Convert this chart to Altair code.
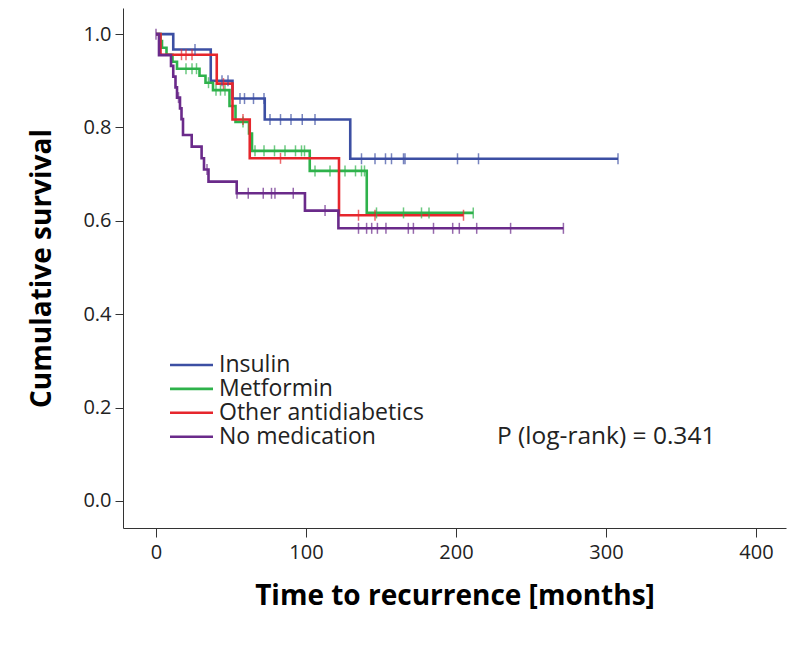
import altair as alt
import pandas as pd

# ---------------- data ----------------
groups = ["Insulin", "Metformin", "Other antidiabetics", "No medication"]
colors = ["#3c4fa3", "#2eb24b", "#e6262c", "#6a2a8a"]

insulin_t = [0, 11.5, 36.5, 51, 72.5, 129.5]
insulin_s = [1.0, 0.967, 0.900, 0.862, 0.817, 0.733]
insulin_end = 308
insulin_cens = [26, 44, 48, 56, 59, 65, 72, 76, 83, 90, 97.5, 106,
                137, 146, 153, 157, 165, 166, 201, 215, 308]

metformin_t = [0, 3, 4, 7, 11, 14, 29, 33, 38, 49, 53, 62, 64, 102.5, 140.5]
metformin_s = [1.0, 0.985, 0.971, 0.956, 0.941, 0.926, 0.911, 0.896, 0.880,
               0.846, 0.812, 0.787, 0.750, 0.707, 0.617]
metformin_end = 211.5
metformin_cens = [20, 24, 27, 35, 40, 43, 46, 58, 66, 72, 79, 86, 93, 97, 99,
                  106, 116, 126, 133, 137, 139, 147, 165, 177, 182, 211.5]

other_t = [0, 3, 40.5, 51, 62.5, 122]
other_s = [1.0, 0.956, 0.894, 0.817, 0.734, 0.612]
other_end = 205
other_cens = [17, 20, 24, 45, 58, 83, 135, 146, 205]

nomed_t = [0, 2, 10, 11.5, 13, 14, 16, 17, 18, 23.8, 30.4, 32, 35, 53.8, 99.3, 121.6]
nomed_s = [1.0, 0.955, 0.932, 0.909, 0.886, 0.864, 0.841, 0.818, 0.784,
           0.759, 0.734, 0.710, 0.684, 0.659, 0.622, 0.584]
nomed_end = 271.6
nomed_cens = [0, 15, 34, 54, 61.5, 71.5, 77, 79.3, 91.5, 112.7, 135, 140.4,
              143.8, 147.6, 153.3, 168.2, 171.6, 185, 197.8, 202.2, 213.8,
              236.4, 271.6]

x_ticks = [0, 100, 200, 300, 400]
y_ticks = [0.0, 0.2, 0.4, 0.6, 0.8, 1.0]
x_title = "Time to recurrence [months]"
y_title = "Cumulative survival"
p_text = "P (log-rank) = 0.341"

series = {
    "Insulin": (insulin_t, insulin_s, insulin_end, insulin_cens),
    "Metformin": (metformin_t, metformin_s, metformin_end, metformin_cens),
    "Other antidiabetics": (other_t, other_s, other_end, other_cens),
    "No medication": (nomed_t, nomed_s, nomed_end, nomed_cens),
}

line_rows, cens_rows = [], []
for g, (ts, ss, end, cens) in series.items():
    for t, s in zip(ts, ss):
        line_rows.append({"group": g, "t": t, "s": s})
    line_rows.append({"group": g, "t": end, "s": ss[-1]})
    for c in cens:
        val = ss[0]
        for t, s in zip(ts, ss):
            if t <= c:
                val = s
        cens_rows.append({"group": g, "t": c, "s": val})

line_df = pd.DataFrame(line_rows)
cens_df = pd.DataFrame(cens_rows)

FONT = "Open Sans"
color_scale = alt.Scale(domain=groups, range=colors)
x_scale = alt.Scale(domain=[-22, 420], nice=False, zero=False)
y_scale = alt.Scale(domain=[-0.058, 1.056], nice=False, zero=False)

x_axis = alt.Axis(values=x_ticks, title=x_title, grid=False, labelFlush=False,
                  labelFontSize=20, labelFont=FONT, labelColor="#222",
                  tickSize=9, tickColor="#333", domainColor="#333",
                  labelPadding=5, titlePadding=20, titleFontSize=28,
                  titleFont=FONT, titleFontWeight="bold", titleColor="#000")
y_axis = alt.Axis(values=y_ticks, format=".1f", title=y_title, grid=False,
                  labelFlush=False, labelFontSize=20, labelFont=FONT,
                  labelColor="#222", tickSize=8, tickColor="#333",
                  domainColor="#333", labelPadding=4, titlePadding=26,
                  titleFontSize=28, titleFont=FONT, titleFontWeight="bold",
                  titleColor="#000")

lines = alt.Chart(line_df).mark_line(interpolate="step-after", strokeWidth=2.6).encode(
    x=alt.X("t:Q", scale=x_scale, axis=x_axis),
    y=alt.Y("s:Q", scale=y_scale, axis=y_axis),
    color=alt.Color("group:N", scale=color_scale, legend=None),
)

ticks = alt.Chart(cens_df).mark_tick(orient="vertical", size=11, thickness=1.5).encode(
    x=alt.X("t:Q", scale=x_scale),
    y=alt.Y("s:Q", scale=y_scale),
    color=alt.Color("group:N", scale=color_scale, legend=None),
)

layers = [lines, ticks]
for i, (g, c) in enumerate(zip(groups, colors)):
    ypix = 357 + i * 23.9
    row = pd.DataFrame({"label": [g]})
    layers.append(alt.Chart(row).mark_rule(color=c, strokeWidth=2.6).encode(
        x=alt.value(47), x2=alt.value(90), y=alt.value(ypix)))
    layers.append(alt.Chart(row).mark_text(align="left", baseline="middle",
                                           font=FONT, fontSize=23, color="#222").encode(
        text="label:N", x=alt.value(96), y=alt.value(ypix)))

p_df = pd.DataFrame({"label": [p_text]})
layers.append(alt.Chart(p_df).mark_text(align="left", baseline="middle", font=FONT,
                                        fontSize=24.5, color="#222").encode(
    text="label:N", x=alt.value(374), y=alt.value(429)))

chart = alt.layer(*layers).properties(
    width=663, height=520,
    autosize=alt.AutoSizeParams(type="none"),
    padding={"left": 115, "top": 0, "right": 6, "bottom": 116},
).configure(background="white").configure_view(stroke=None)

chart.save("out.html", embed_options={"renderer": "svg", "actions": False})
